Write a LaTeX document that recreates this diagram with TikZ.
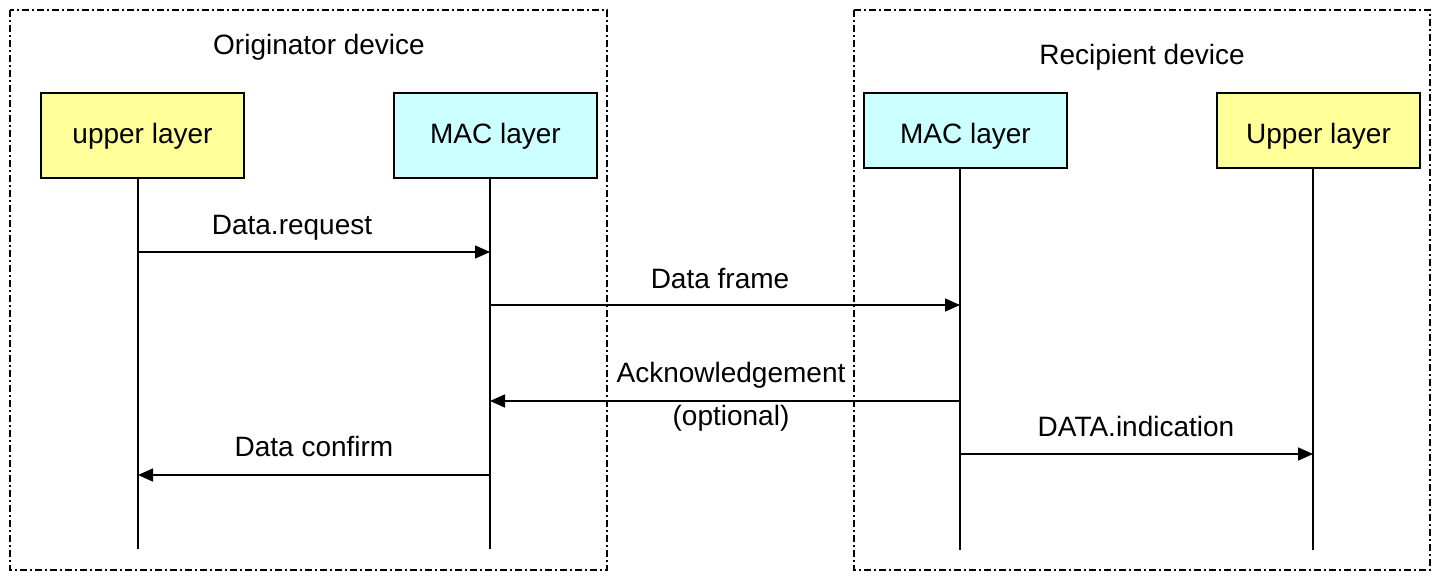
\documentclass[tikz,border=0pt]{standalone}
\usepackage{fontspec}
\setmainfont{Liberation Sans}
\usetikzlibrary{arrows.meta}
\definecolor{upperfill}{HTML}{FFFF99}
\definecolor{macfill}{HTML}{CCFFFF}
\begin{document}
\begin{tikzpicture}[x=0.5pt, y=-0.5pt, font=\fontsize{14pt}{16pt}\selectfont,
  device/.style={draw, line width=0.75pt, dash pattern=on 3.5pt off 1.5pt on 1pt off 1.5pt},
  layer/.style={draw, line width=0.8pt, minimum width=101.5pt, inner sep=0pt, text depth=3pt},
  life/.style={line width=0.8pt},
  msg/.style={line width=0.8pt, -{Triangle[length=7.5pt, width=6.5pt]}},
  lbl/.style={anchor=base}]
\useasboundingbox (0,0) rectangle (1440,585);
% device frames
\draw[device] (10,10) rectangle (607,570);
\draw[device] (854,10) rectangle (1430,570);
\node[lbl] (orig) at (319,54) {Originator device};
\node[lbl] (recip) at (1142,64) {Recipient device};
% layers
\node[layer, fill=upperfill, minimum height=42.5pt, text height=10.5pt] (up1) at (142.5,135.5) {upper layer};
\node[layer, fill=macfill, minimum height=42.5pt, text height=10.5pt] (mac1) at (495.5,135.5) {MAC layer};
\node[layer, fill=macfill, minimum height=37.5pt, text height=15.5pt] (mac2) at (965.5,130.5) {MAC layer};
\node[layer, fill=upperfill, minimum height=37.5pt, text height=15.5pt] (up2) at (1318.5,130.5) {Upper layer};
% lifelines
\coordinate (up1end) at (138,549);
\coordinate (mac1end) at (490,549);
\coordinate (mac2end) at (960,550);
\coordinate (up2end) at (1313,550);
\draw[life] (up1end |- up1.south) -- (up1end);
\draw[life] (mac1end |- mac1.south) -- (mac1end);
\draw[life] (mac2end |- mac2.south) -- (mac2end);
\draw[life] (up2end |- up2.south) -- (up2end);
% messages
\coordinate (req) at (138,252);
\coordinate (frame) at (490,305);
\coordinate (ack) at (960,401);
\coordinate (ind) at (960,454);
\coordinate (conf) at (490,475);
\draw[msg] (req) -- (req -| mac1end);
\node[lbl] (reqlbl) at (292,234) {Data.request};
\draw[msg] (frame) -- (frame -| mac2end);
\node[lbl] (framelbl) at (720,288) {Data frame};
\draw[msg] (ack) -- (ack -| mac1end);
\node[lbl] (acklbl) at (731,382) {Acknowledgement};
\node[lbl] (optlbl) at (731,425) {(optional)};
\draw[msg] (ind) -- (ind -| up2end);
\node[lbl] (indlbl) at (1136,436) {DATA.indication};
\draw[msg] (conf) -- (conf -| up1end);
\node[lbl] (conflbl) at (314,456) {Data confirm};
\end{tikzpicture}
\end{document}
